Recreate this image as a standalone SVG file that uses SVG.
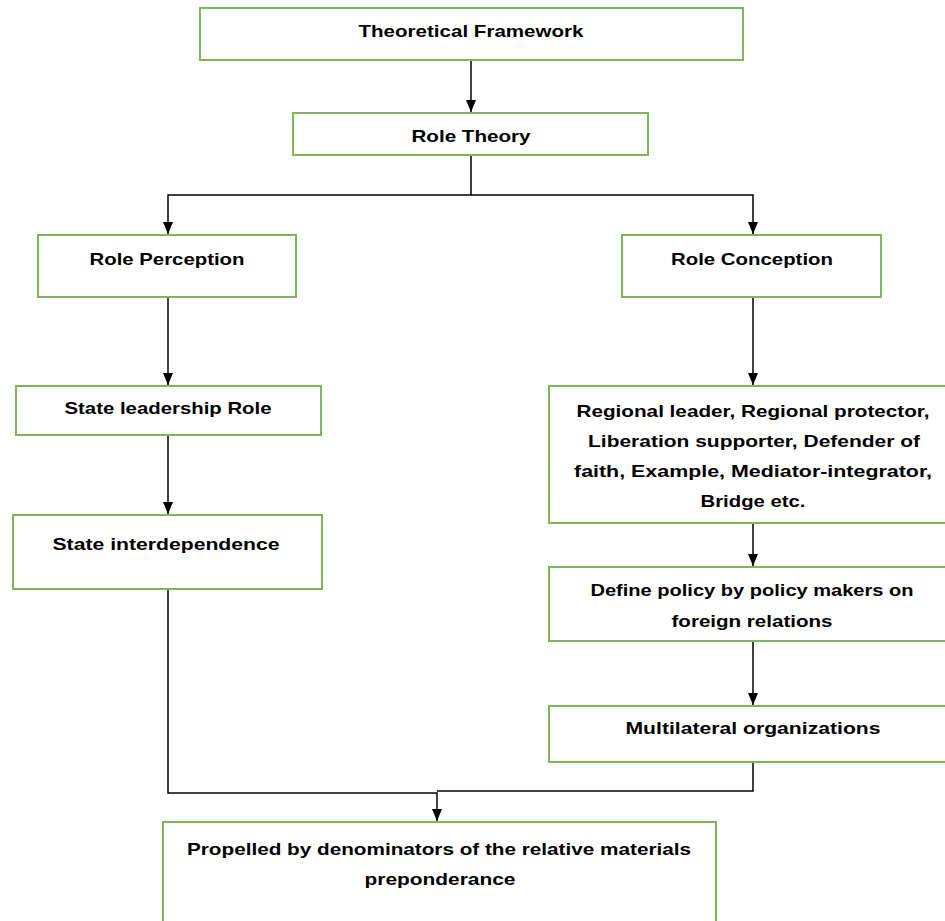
<svg xmlns="http://www.w3.org/2000/svg" width="945" height="921" viewBox="0 0 945 921">
<defs>
<marker id="ah" markerWidth="12" markerHeight="10" refX="12" refY="5" orient="auto" markerUnits="userSpaceOnUse" viewBox="0 0 12 10">
<path d="M0,0 L12,5 L0,10 Z" fill="#000"/>
</marker>
<style>
.box{fill:#fff;stroke:#7cb85a;stroke-width:2}
.t{font-family:"Liberation Sans",Arial,sans-serif;font-weight:bold;font-size:16.5px;fill:#000;text-anchor:middle}
.c{fill:none;stroke:#000;stroke-width:1.5}
</style>
</defs>
<rect width="945" height="921" fill="#fff"/>
<g id="connectors">
<path class="c" d="M471,60 V112" marker-end="url(#ah)"/>
<path class="c" d="M471,155 V195 H168 V234" marker-end="url(#ah)"/>
<path class="c" d="M471,195 H753 V234" marker-end="url(#ah)"/>
<path class="c" d="M168,297 V385" marker-end="url(#ah)"/>
<path class="c" d="M168,435 V514" marker-end="url(#ah)"/>
<path class="c" d="M753,297 V385" marker-end="url(#ah)"/>
<path class="c" d="M753,523 V566" marker-end="url(#ah)"/>
<path class="c" d="M753,641 V705" marker-end="url(#ah)"/>
<path class="c" d="M168,589 V793 H437 V821" marker-end="url(#ah)"/>
<path class="c" d="M753,762 V791 H437"/>
</g>
<g id="n1"><rect class="box" x="200" y="8" width="543" height="52"/><text class="t" x="471" y="37" textLength="225" lengthAdjust="spacingAndGlyphs">Theoretical Framework</text></g>
<g id="n2"><rect class="box" x="293" y="113" width="355" height="42"/><text class="t" x="471" y="142" textLength="119" lengthAdjust="spacingAndGlyphs">Role Theory</text></g>
<g id="n3"><rect class="box" x="38" y="235" width="258" height="62"/><text class="t" x="167" y="265" textLength="155" lengthAdjust="spacingAndGlyphs">Role Perception</text></g>
<g id="n4"><rect class="box" x="622" y="235" width="259" height="62"/><text class="t" x="752" y="265" textLength="162" lengthAdjust="spacingAndGlyphs">Role Conception</text></g>
<g id="n5"><rect class="box" x="16" y="386" width="305" height="49"/><text class="t" x="168" y="414" textLength="207" lengthAdjust="spacingAndGlyphs">State leadership Role</text></g>
<g id="n6"><rect class="box" x="13" y="515" width="309" height="74"/><text class="t" x="166" y="550" textLength="227" lengthAdjust="spacingAndGlyphs">State interdependence</text></g>
<g id="n7"><rect class="box" x="549" y="386" width="398" height="137"/>
<text class="t" x="753" y="417" textLength="353" lengthAdjust="spacingAndGlyphs">Regional leader, Regional protector,</text>
<text class="t" x="754" y="447" textLength="332" lengthAdjust="spacingAndGlyphs">Liberation supporter, Defender of</text>
<text class="t" x="753" y="477" textLength="358" lengthAdjust="spacingAndGlyphs">faith, Example, Mediator-integrator,</text>
<text class="t" x="753" y="507" textLength="105" lengthAdjust="spacingAndGlyphs">Bridge etc.</text></g>
<g id="n8"><rect class="box" x="549" y="567" width="398" height="74"/>
<text class="t" x="752" y="596" textLength="323" lengthAdjust="spacingAndGlyphs">Define policy by policy makers on</text>
<text class="t" x="752" y="627" textLength="161" lengthAdjust="spacingAndGlyphs">foreign relations</text></g>
<g id="n9"><rect class="box" x="549" y="706" width="398" height="56"/><text class="t" x="753" y="734" textLength="255" lengthAdjust="spacingAndGlyphs">Multilateral organizations</text></g>
<g id="n10"><rect class="box" x="163" y="822" width="553" height="110"/>
<text class="t" x="439" y="855" textLength="504" lengthAdjust="spacingAndGlyphs">Propelled by denominators of the relative materials</text>
<text class="t" x="440" y="885" textLength="151" lengthAdjust="spacingAndGlyphs">preponderance</text></g>
</svg>
